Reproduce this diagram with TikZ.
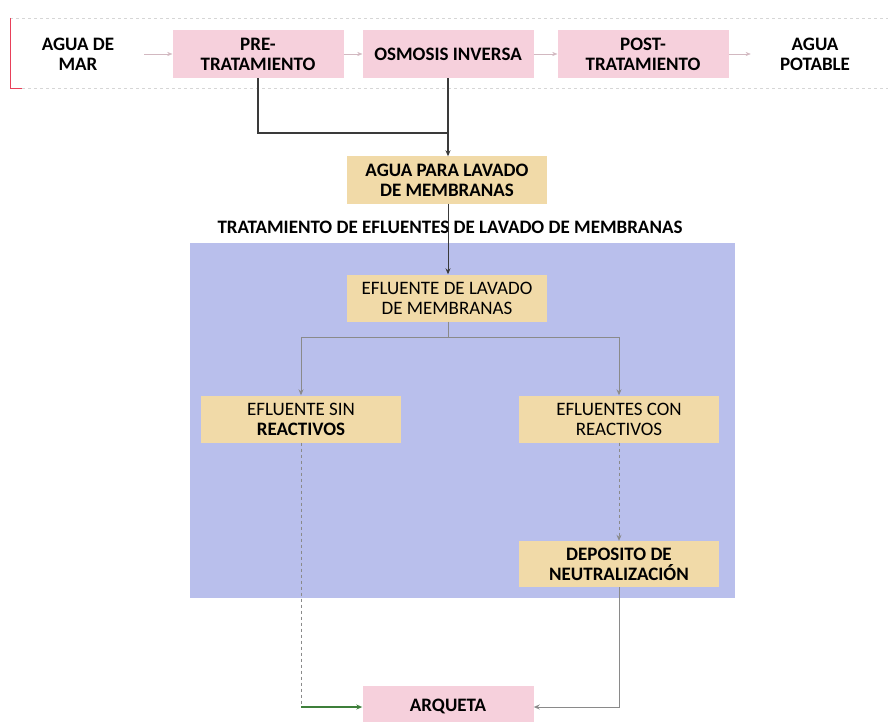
\documentclass[tikz,border=0pt]{standalone}
\usepackage{fontspec}
\setmainfont{Carlito}
\usetikzlibrary{arrows.meta}
\definecolor{pinkbox}{HTML}{F6D0DC}
\definecolor{tanbox}{HTML}{F1DAA8}
\definecolor{bluezone}{HTML}{B9BFEC}
\definecolor{flowgrey}{HTML}{8A8A8A}
\definecolor{flowdark}{HTML}{3A3A3A}
\definecolor{flowgreen}{HTML}{3E7F3A}
\definecolor{framegrey}{HTML}{D6D6D6}
\definecolor{framered}{HTML}{E8405A}
\newcommand{\lblfont}{\fontsize{19}{20}\selectfont}
\tikzset{
  x=1pt, y=-1pt,
  every node/.style={font=\lblfont, align=center, inner sep=0pt},
  pinknode/.style={fill=pinkbox, minimum width=171pt, minimum height=48pt, font=\lblfont\bfseries},
  tannode/.style={fill=tanbox, minimum width=200pt, minimum height=47pt},
  plainlabel/.style={font=\lblfont\bfseries},
  smallarrow/.style={draw=pinkbox!70!gray, -{Stealth[length=5pt,width=4pt]}},
  darkline/.style={draw=flowdark, line width=1.1pt},
  greyline/.style={draw=flowgrey, line width=0.9pt},
  tip/.style={-{Stealth[length=6pt,width=5pt]}},
}
\begin{document}
\begin{tikzpicture}
\useasboundingbox (0,0) rectangle (888,722);
\fill[white] (0,0) rectangle (888,722);

% process frame along the top
\draw[framegrey, dashed, line width=0.8pt] (10,18) -- (888,18);
\draw[framegrey, dashed, line width=0.8pt] (10,88) -- (888,88);
\draw[framered, line width=0.8pt] (10,18) -- (10,88) -- (22,88);

% treatment zone
\fill[bluezone] (190,243) rectangle (735,598);

% main line
\node[plainlabel] (mar) at (78,54) {AGUA DE\\MAR};
\node[pinknode] (pre) at (258,54) {PRE-\\TRATAMIENTO};
\node[pinknode] (osm) at (448,54) {OSMOSIS INVERSA};
\node[pinknode] (post) at (643,54) {POST-\\TRATAMIENTO};
\node[plainlabel] (pot) at (815,54) {AGUA\\POTABLE};

\draw[smallarrow] (mar.east) ++(30,0) coordinate (a0) -- (pre.west);
\draw[smallarrow] (pre.east) -- (osm.west);
\draw[smallarrow] (osm.east) -- (post.west);
\draw[smallarrow] (post.east) -- ++(22,0) coordinate (a3);

% membrane washing water
\node[tannode, font=\lblfont\bfseries] (agua) at (447,180) {AGUA PARA LAVADO\\DE MEMBRANAS};
\coordinate (join) at (448,133);
\draw[darkline] (pre.south) -- (pre.south |- join) -- (join);
\draw[darkline, tip] (osm.south -| join) -- (agua.north -| join);

\node[font=\lblfont\bfseries] (title) at (450,227) {TRATAMIENTO DE EFLUENTES DE LAVADO DE MEMBRANAS};

% effluent treatment
\node[tannode] (efl) at (447,298) {EFLUENTE DE LAVADO\\DE MEMBRANAS};
\draw[darkline, line width=0.8pt, tip] (agua.south -| join) -- (efl.north -| join);

\node[tannode] (sin) at (301,419) {EFLUENTE SIN\\\textbf{REACTIVOS}};
\node[tannode] (con) at (619,419) {EFLUENTES CON\\REACTIVOS};
\node[tannode, minimum height=46pt] (dep) at (619,564) {\textbf{DEPOSITO DE}\\\textbf{NEUTRALIZACIÓN}};

\coordinate (split) at (448,337);
\draw[greyline] (efl.south -| split) -- (split);
\draw[greyline, tip] (split) -| (sin.north);
\draw[greyline, tip] (split) -| (con.north);
\draw[greyline, dashed, tip] (con.south) -- (dep.north);

% collection pit
\node[pinknode, minimum height=40pt, anchor=north] (arq) at (448,686) {ARQUETA};
\coordinate (lbend) at (sin.south |- 0,707);
\coordinate (rbend) at (dep.south |- 0,707);
\draw[greyline, dashed] (sin.south) -- (lbend);
\draw[flowgreen, line width=1.1pt, -{Stealth[open,length=6pt,width=5pt]}] (lbend) -- (arq.west |- lbend);
\draw[greyline, -{Stealth[open,length=6pt,width=5pt]}] (dep.south) -- (rbend) -- (arq.east |- rbend);
\end{tikzpicture}
\end{document}
